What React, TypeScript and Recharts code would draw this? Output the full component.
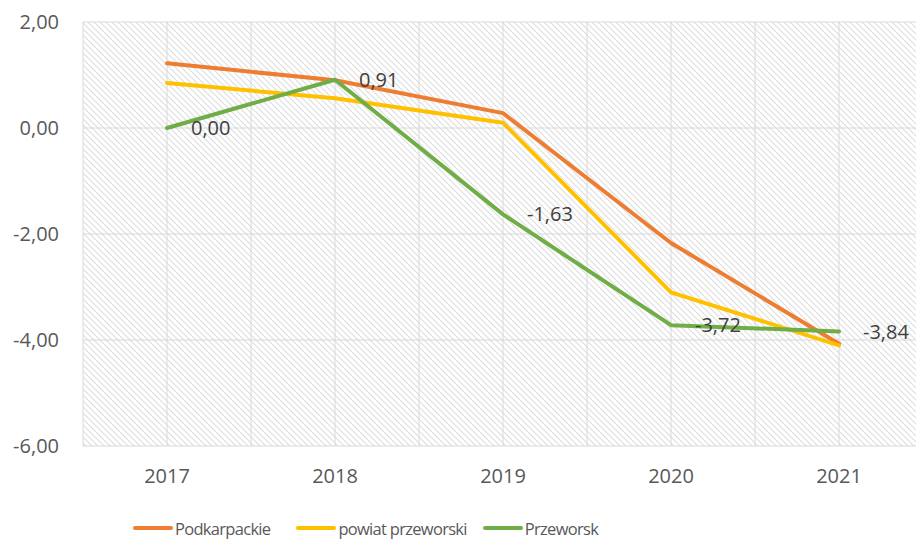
import React from 'react';
import { LineChart, Line, XAxis, YAxis, CartesianGrid, Legend, LabelList } from 'recharts';

const years = [2017, 2018, 2019, 2020, 2021];
const podkarpackie = [1.22, 0.9, 0.28, -2.17, -4.07];
const powiatPrzeworski = [0.85, 0.56, 0.1, -3.1, -4.1];
const przeworsk = [0.0, 0.91, -1.63, -3.72, -3.84];
const yTicks = [-6, -4, -2, 0, 2];
const xTicks = [2016.5, 2017, 2017.5, 2018, 2018.5, 2019, 2019.5, 2020, 2020.5, 2021, 2021.5];

const seriesNames = ['Podkarpackie', 'powiat przeworski', 'Przeworsk'];
const seriesColors = ['#ED7D31', '#FFC000', '#70AD47'];

const data = years.map((y, i) => ({
  year: y,
  podkarpackie: podkarpackie[i],
  powiat: powiatPrzeworski[i],
  przeworsk: przeworsk[i],
}));

const fmt = (v: number) => v.toFixed(2).replace('.', ',');
const FONT = '"Open Sans", "Noto Sans", sans-serif';
const legendGaps = [26, 16, 0];

const renderLegend = () => {
  return (
    <div
      style={{
        height: 40,
        boxSizing: 'border-box',
        paddingTop: 14,
        paddingLeft: 133,
        display: 'flex',
        alignItems: 'center',
        fontFamily: FONT,
        fontSize: 16.5,
        color: '#595959',
      }}
    >
      {seriesNames.map((name, idx) => (
        <div key={idx} style={{ display: 'flex', alignItems: 'center', height: 24, marginRight: legendGaps[idx] }}>
          <svg width={40} height={8} style={{ display: 'block' }}>
            <line x1={2} y1={4} x2={38} y2={4} stroke={seriesColors[idx]} strokeWidth={4} strokeLinecap="round" />
          </svg>
          <span style={{ marginLeft: 2, whiteSpace: 'nowrap', letterSpacing: -0.7 }}>{name}</span>
        </div>
      ))}
    </div>
  );
};

const renderLabel = (props: any) => {
  const { x, y, value } = props;
  return (
    <text
      x={x + 24}
      y={y}
      dy="0.35em"
      textAnchor="start"
      fill="#404040"
      fontSize={20}
      fontFamily={FONT}
    >
      {fmt(Number(value))}
    </text>
  );
};

export default function App() {
  return (
    <div
      style={{
        position: 'fixed',
        left: 0,
        top: 0,
        width: 916,
        height: 541,
        overflow: 'hidden',
        background: '#ffffff',
      }}
    >
      <svg width={0} height={0} style={{ position: 'absolute' }}>
        <defs>
          <pattern id="hatch" patternUnits="userSpaceOnUse" width={6} height={6}>
            <rect width={6} height={6} fill="#ffffff" />
            <path d="M-1,-1 L7,7 M-1,5 L1,7 M5,-1 L7,1" stroke="#dedede" strokeWidth={1.1} />
          </pattern>
        </defs>
      </svg>
      <LineChart
        width={930}
        height={541}
        data={data}
        margin={{ top: 22, right: 7, bottom: 0, left: 0 }}
      >
        <CartesianGrid stroke="#d9d9d9" strokeWidth={1} fill="url(#hatch)" />
        <XAxis
          dataKey="year"
          type="number"
          domain={[2016.5, 2021.5]}
          ticks={xTicks}
          tickFormatter={(v: number) => (Number.isInteger(v) ? String(v) : '')}
          axisLine={false}
          tickLine={false}
          tickSize={0}
          tickMargin={23}
          height={55}
          interval={0}
          tick={{ fill: '#595959', fontSize: 20, fontFamily: FONT }}
        />
        <YAxis
          domain={[-6, 2]}
          ticks={yTicks}
          tickFormatter={(v: number) => fmt(v)}
          axisLine={false}
          tickLine={false}
          tickSize={0}
          tickMargin={24}
          width={83}
          interval={0}
          tick={{ fill: '#595959', fontSize: 20, fontFamily: FONT }}
        />
        <Legend verticalAlign="bottom" align="left" content={renderLegend} />
        <Line
          name={seriesNames[0]}
          dataKey="podkarpackie"
          stroke={seriesColors[0]}
          strokeWidth={4}
          dot={false}
          strokeLinecap="round"
          strokeLinejoin="round"
          isAnimationActive={false}
        />
        <Line
          name={seriesNames[1]}
          dataKey="powiat"
          stroke={seriesColors[1]}
          strokeWidth={4}
          dot={false}
          strokeLinecap="round"
          strokeLinejoin="round"
          isAnimationActive={false}
        />
        <Line
          name={seriesNames[2]}
          dataKey="przeworsk"
          stroke={seriesColors[2]}
          strokeWidth={4}
          dot={false}
          strokeLinecap="round"
          strokeLinejoin="round"
          isAnimationActive={false}
        >
          <LabelList dataKey="przeworsk" content={renderLabel} />
        </Line>
      </LineChart>
    </div>
  );
}
